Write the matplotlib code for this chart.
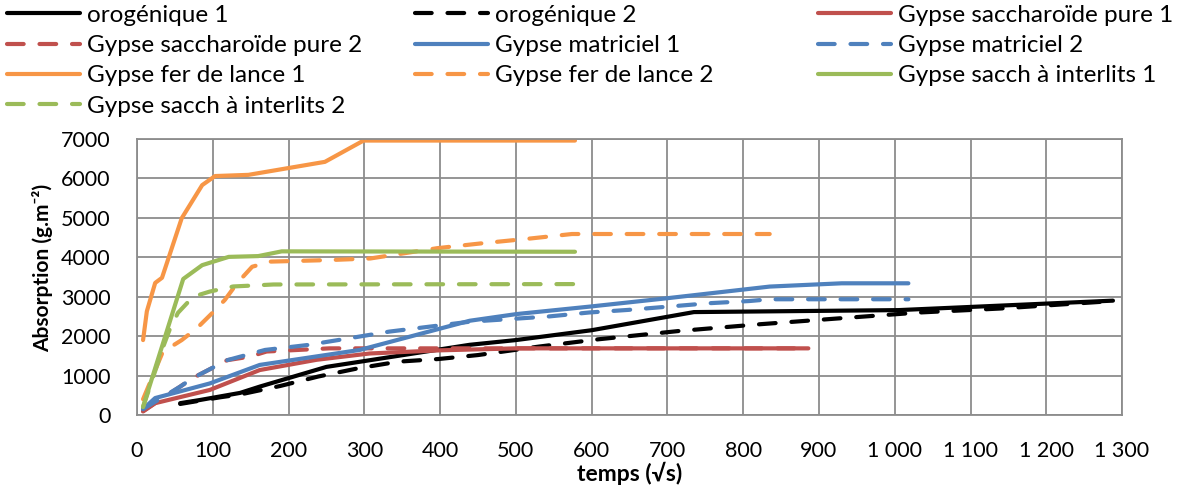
import matplotlib
matplotlib.use("Agg")
import matplotlib.pyplot as plt

plt.rcParams["font.family"] = ["Lato", "DejaVu Sans"]

# series values (x in sqrt(s), y in g/m2)
oro1_x = [57, 83, 136, 162, 250, 294, 439, 500, 600, 735, 1005, 1288]
oro1_y = [300, 380, 560, 720, 1220, 1350, 1780, 1900, 2150, 2610, 2660, 2900]
oro2_x = [57, 110, 136, 189, 239, 292, 345, 398, 450, 530, 609, 715, 821, 926, 1033, 1139, 1288]
oro2_y = [280, 450, 520, 736, 975, 1185, 1353, 1420, 1520, 1734, 1920, 2130, 2300, 2450, 2600, 2700, 2890]
pure1_x = [8, 24, 96, 162, 237, 307, 400, 500, 886]
pure1_y = [90, 300, 635, 1140, 1400, 1560, 1640, 1690, 1690]
pure2_x = [8, 57, 73, 119, 149, 171, 254, 886]
pure2_y = [100, 720, 930, 1390, 1480, 1610, 1690, 1690]
mat1_x = [8, 24, 96, 162, 294, 439, 501, 598, 699, 835, 930, 1018]
mat1_y = [150, 430, 800, 1270, 1650, 2390, 2560, 2750, 2960, 3257, 3340, 3340]
mat2_x = [8, 57, 73, 119, 169, 226, 280, 333, 440, 490, 544, 597, 648, 702, 755, 808, 835, 1018]
mat2_y = [150, 720, 930, 1390, 1650, 1777, 1946, 2115, 2368, 2430, 2500, 2600, 2665, 2750, 2835, 2890, 2935, 2935]
fer1_x = [8, 13, 24, 33, 59, 86, 103, 147, 248, 299, 578]
fer1_y = [1900, 2630, 3350, 3480, 4990, 5830, 6060, 6090, 6420, 6960, 6960]
fer2_x = [8, 34, 59, 79, 99, 116, 132, 152, 176, 255, 308, 396, 453, 521, 574, 835]
fer2_y = [400, 1600, 1900, 2200, 2580, 2920, 3340, 3760, 3890, 3930, 3970, 4230, 4350, 4480, 4590, 4590]
int1_x = [8, 61, 86, 121, 160, 191, 578]
int1_y = [210, 3450, 3800, 4010, 4030, 4150, 4140]
int2_x = [8, 26, 33, 43, 54, 74, 96, 127, 149, 180, 578]
int2_y = [200, 1230, 1650, 2160, 2590, 3000, 3130, 3260, 3280, 3310, 3320]

x_ticks = list(range(0, 1301, 100))
x_tick_labels = ["0", "100", "200", "300", "400", "500", "600", "700", "800", "900",
                 "1 000", "1 100", "1 200", "1 300"]
y_ticks = list(range(0, 7001, 1000))

fig = plt.figure(figsize=(11.79, 4.88), dpi=100)
ax = fig.add_axes([0.1162, 0.1496, 0.8355, 0.5656])

lw = 3.0
dash = (4, 3.8)
series = [
    ("orogénique 1", oro1_x, oro1_y, "black", False),
    ("orogénique 2", oro2_x, oro2_y, "black", True),
    ("Gypse saccharoïde pure 1", pure1_x, pure1_y, "#C0504D", False),
    ("Gypse saccharoïde pure 2", pure2_x, pure2_y, "#C0504D", True),
    ("Gypse matriciel 1", mat1_x, mat1_y, "#4F81BD", False),
    ("Gypse matriciel 2", mat2_x, mat2_y, "#4F81BD", True),
    ("Gypse fer de lance 1", fer1_x, fer1_y, "#F79646", False),
    ("Gypse fer de lance 2", fer2_x, fer2_y, "#F79646", True),
    ("Gypse sacch à interlits 1", int1_x, int1_y, "#9BBB59", False),
    ("Gypse sacch à interlits 2", int2_x, int2_y, "#9BBB59", True),
]

handles = []
for label, xs, ys, color, dashed in series:
    if dashed:
        line, = ax.plot(xs, ys, color=color, lw=lw, label=label, dashes=dash,
                        dash_capstyle="round", solid_joinstyle="round")
    else:
        line, = ax.plot(xs, ys, color=color, lw=lw, label=label,
                        solid_capstyle="round", solid_joinstyle="round")
    handles.append(line)

ax.set_xlim(0, 1300)
ax.set_ylim(0, 7000)
ax.set_xticks(x_ticks)
ax.set_xticklabels(x_tick_labels)
ax.set_yticks(y_ticks)
ax.grid(True, color="#8c8c8c", lw=1.3)
ax.set_axisbelow(True)
for s in ax.spines.values():
    s.set_color("#8c8c8c")
    s.set_linewidth(1.3)
ax.tick_params(length=0, labelsize=15.5, pad=19)
ax.set_xlabel("temps (√s)", fontsize=16.5, fontweight="bold")
ax.set_ylabel("Absorption (g.m⁻²)", fontsize=15, fontweight="bold")
ax.xaxis.set_label_coords(0.5, -0.17)
ax.yaxis.set_label_coords(-0.085, 0.533)

# three legend columns, filled row by row like the original
cols = [(0.006, [0, 3, 6, 9]), (0.352, [1, 4, 7]), (0.694, [2, 5, 8])]
for xpos, idx in cols:
    fig.legend([handles[i] for i in idx], [series[i][0] for i in idx],
               loc="upper left", bbox_to_anchor=(xpos, 0.99), frameon=False,
               fontsize=17.5, handlelength=3.0, handletextpad=0.3,
               labelspacing=0.38, borderpad=0, borderaxespad=0)

fig.savefig("out.png", dpi=100)
